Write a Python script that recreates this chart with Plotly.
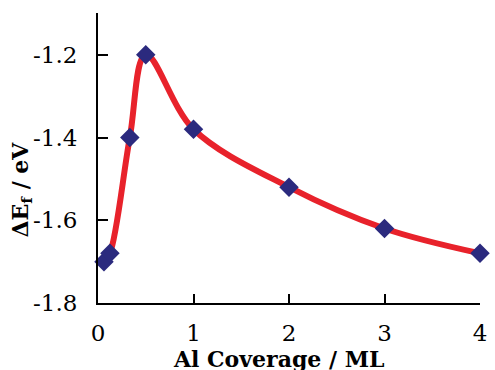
import plotly.graph_objects as go

coverage = [0.0625, 0.125, 0.333, 0.5, 1, 2, 3, 4]
delta_ef = [-1.70, -1.68, -1.40, -1.20, -1.38, -1.52, -1.62, -1.68]

x_tickvals = [0, 1, 2, 3, 4]
x_ticktext = ["0", "1", "2", "3", "4"]
y_tickvals = [-1.8, -1.6, -1.4, -1.2]
y_ticktext = ["-1.8", "-1.6", "-1.4", "-1.2"]

serif = "DejaVu Serif"

fig = go.Figure()
fig.add_trace(go.Scatter(
    x=coverage, y=delta_ef, mode="lines",
    line=dict(color="#e8222b", width=6, shape="spline", smoothing=1.0),
    showlegend=False, cliponaxis=False,
))
fig.add_trace(go.Scatter(
    x=coverage, y=delta_ef, mode="markers",
    marker=dict(symbol="diamond", size=15, color="#2b2a7e", line=dict(width=0)),
    showlegend=False, cliponaxis=False,
))

fig.update_layout(
    width=495, height=370,
    margin=dict(l=98, r=8, t=13, b=67),
    paper_bgcolor="white", plot_bgcolor="white",
    font=dict(family=serif, size=23, color="black"),
    xaxis=dict(range=[0, 4], tickvals=x_tickvals, ticktext=x_ticktext,
               ticks="inside", ticklen=9, tickwidth=2, tickcolor="black",
               showline=True, linewidth=2, linecolor="black",
               showgrid=False, zeroline=False, ticklabelstandoff=8,
               tickfont=dict(family=serif, size=23)),
    yaxis=dict(range=[-1.8, -1.099], tickvals=y_tickvals, ticktext=y_ticktext,
               ticks="inside", ticklen=10, tickwidth=2, tickcolor="black",
               showline=True, linewidth=2, linecolor="black",
               showgrid=False, zeroline=False, ticklabelstandoff=14,
               tickfont=dict(family=serif, size=23)),
    annotations=[
        dict(text="<b>Al Coverage / ML</b>", xref="paper", yref="paper",
             x=0.473, y=-0.193, xanchor="center", yanchor="middle",
             showarrow=False, font=dict(family=serif, size=22, color="black")),
        dict(text="<b>ΔE<sub>f</sub> / eV</b>", xref="paper", yref="paper",
             x=-0.2, y=0.39, xanchor="center", yanchor="middle", textangle=-90,
             showarrow=False, font=dict(family=serif, size=22, color="black")),
    ],
)

fig.write_html("out.html")
